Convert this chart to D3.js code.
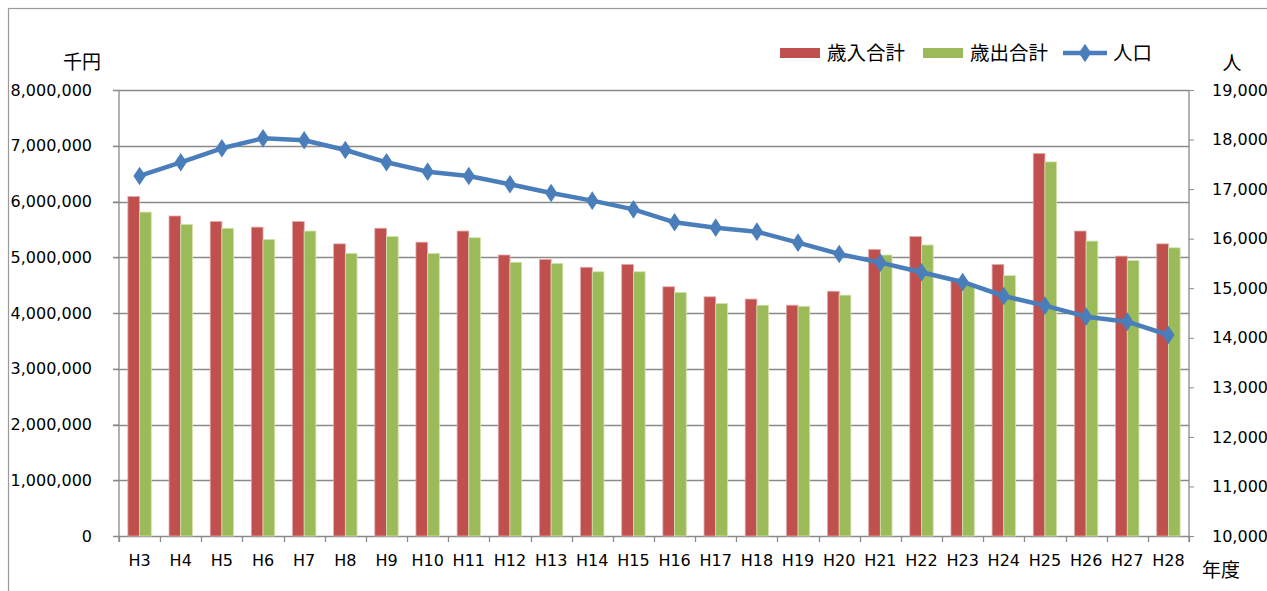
<!DOCTYPE html>
<html><head><meta charset="utf-8">
<script src="https://cdn.jsdelivr.net/npm/d3@7"></script>
<style>
html,body{margin:0;padding:0;background:#fff;}
svg{display:block;}
text{font-family:"DejaVu Sans",Verdana,sans-serif;fill:#000;}
.cjk{font-family:"Noto Sans CJK JP","Noto Sans",sans-serif;}
</style></head><body>
<svg id="c" width="1267" height="591"></svg>
<script>
const categories = ["H3","H4","H5","H6","H7","H8","H9","H10","H11","H12","H13","H14","H15","H16","H17","H18","H19","H20","H21","H22","H23","H24","H25","H26","H27","H28"];
const revenue = [6090000,5740000,5640000,5540000,5640000,5240000,5520000,5270000,5470000,5040000,4960000,4820000,4870000,4470000,4290000,4250000,4140000,4390000,5140000,5370000,4610000,4870000,6860000,5470000,5020000,5240000];
const expenditure = [5810000,5590000,5520000,5320000,5470000,5070000,5370000,5070000,5350000,4910000,4890000,4740000,4740000,4370000,4170000,4140000,4120000,4320000,5040000,5220000,4500000,4670000,6710000,5290000,4940000,5170000];
const population = [17265,17541,17824,18025,17985,17789,17541,17352,17265,17097,16922,16767,16592,16330,16222,16141,15920,15691,15516,15321,15126,14843,14648,14426,14325,14056];
const leftTicks = [0,1000000,2000000,3000000,4000000,5000000,6000000,7000000,8000000];
const rightTicks = [10000,11000,12000,13000,14000,15000,16000,17000,18000,19000];
const seriesNames = ["歳入合計","歳出合計","人口"];
const colors = {rev:"#C0504D", exp:"#9BBB59", pop:"#4A7EBB"};

const svg = d3.select("#c");
const L = 119, R = 1189, T = 90, B = 536;
const grid = "#8a8a8a";

// frame
svg.append("rect").attr("x",8.5).attr("y",8.5).attr("width",1300).attr("height",700)
  .attr("fill","none").attr("stroke","#9a9a9a").attr("stroke-width",1.2);

const x = d3.scaleBand().domain(categories).range([L,R]).paddingInner(0).paddingOuter(0);
const xs = d3.scaleBand().domain(["rev","exp"]).range([0,x.bandwidth()]).paddingInner(0).paddingOuter(0.76);
const yL = d3.scaleLinear().domain([0,8000000]).range([B,T]);
const yR = d3.scaleLinear().domain([10000,19000]).range([B,T]);

// gridlines
svg.append("g").selectAll("line").data(leftTicks).join("line")
  .attr("x1",L-6).attr("x2",R).attr("y1",d=>Math.round(yL(d))+0.5).attr("y2",d=>Math.round(yL(d))+0.5)
  .attr("stroke",grid).attr("stroke-width",1.3);

// left axis
const fmt = d3.format(",");
const gl = svg.append("g").attr("transform",`translate(${L},0)`)
  .call(d3.axisLeft(yL).tickValues(leftTicks).tickFormat(fmt).tickSize(6).tickPadding(21));
gl.select(".domain").attr("stroke",grid).attr("stroke-width",1.3).attr("d",`M0,${T}V${B+6}`);
gl.selectAll(".tick line").attr("stroke",grid);
gl.selectAll(".tick text").style("font-size","16px").style("font-family","'DejaVu Sans',Verdana,sans-serif").attr("fill","#000");

// right axis
const gr = svg.append("g").attr("transform",`translate(${R},0)`)
  .call(d3.axisRight(yR).tickValues(rightTicks).tickFormat(fmt).tickSize(5).tickPadding(18));
gr.select(".domain").attr("stroke",grid).attr("stroke-width",1.3).attr("d",`M0,${T}V${B+6}`);
gr.selectAll(".tick line").attr("stroke",grid);
gr.selectAll(".tick text").style("font-size","16px").style("font-family","'DejaVu Sans',Verdana,sans-serif").attr("fill","#000");

// bottom axis
const gb = svg.append("g").attr("transform",`translate(0,${B})`)
  .call(d3.axisBottom(x).tickSize(0).tickPadding(19));
gb.select(".domain").remove();
gb.selectAll(".tick text").style("font-size","16px").style("font-family","'DejaVu Sans',Verdana,sans-serif").attr("fill","#000");
svg.append("g").selectAll("line").data(categories.concat(["_end"])).join("line")
  .attr("x1",(d,i)=>Math.round(L+i*x.step())+0.5).attr("x2",(d,i)=>Math.round(L+i*x.step())+0.5)
  .attr("y1",B).attr("y2",B+6).attr("stroke",grid).attr("stroke-width",1.3);

// bars
const bars = svg.append("g");
bars.selectAll(".rev").data(revenue).join("rect")
  .attr("x",(d,i)=>x(categories[i])+xs("rev")).attr("width",xs.bandwidth())
  .attr("y",d=>yL(d)).attr("height",d=>B-yL(d))
  .attr("fill",colors.rev).attr("stroke","#e0a9a8").attr("stroke-width",0.8);
bars.selectAll(".exp").data(expenditure).join("rect")
  .attr("x",(d,i)=>x(categories[i])+xs("exp")).attr("width",xs.bandwidth())
  .attr("y",d=>yL(d)).attr("height",d=>B-yL(d))
  .attr("fill",colors.exp).attr("stroke","#d2e3b0").attr("stroke-width",0.8);

// line
const cx = i => x(categories[i]) + x.bandwidth()/2;
const line = d3.line().x((d,i)=>cx(i)).y(d=>yR(d));
svg.append("path").datum(population).attr("d",line)
  .attr("fill","none").attr("stroke",colors.pop).attr("stroke-width",4.5).attr("stroke-linejoin","round");
const dsym = d3.symbol().type(d3.symbolDiamond).size(100);
svg.append("g").selectAll("path").data(population).join("path")
  .attr("d",dsym).attr("transform",(d,i)=>`translate(${cx(i)},${yR(d)}) scale(1.15,1)`)
  .attr("fill",colors.pop);

// axis titles
svg.append("text").attr("class","cjk").attr("x",82).attr("y",69).attr("text-anchor","middle").style("font-size","19px").text("千円");
svg.append("text").attr("class","cjk").attr("x",1232).attr("y",70).attr("text-anchor","middle").style("font-size","19px").text("人");
svg.append("text").attr("class","cjk").attr("x",1221).attr("y",577).attr("text-anchor","middle").style("font-size","19px").text("年度");

// legend
const lg = svg.append("g");
const items = [
  {name:seriesNames[0], type:"rect", color:colors.rev, x:780, tx:827},
  {name:seriesNames[1], type:"rect", color:colors.exp, x:923, tx:970},
  {name:seriesNames[2], type:"line", color:colors.pop, x:1063, tx:1113}
];
items.forEach(it=>{
  if(it.type==="rect"){
    lg.append("rect").attr("x",it.x).attr("y",48).attr("width",40).attr("height",10).attr("fill",it.color);
  } else {
    lg.append("line").attr("x1",it.x).attr("x2",it.x+44).attr("y1",53).attr("y2",53).attr("stroke",it.color).attr("stroke-width",4.5);
    lg.append("path").attr("d",dsym).attr("transform",`translate(${it.x+22},53) scale(1.15,1)`).attr("fill",it.color);
  }
  lg.append("text").attr("class","cjk").attr("x",it.tx).attr("y",60).style("font-size","19.5px").text(it.name);
});
</script>
</body></html>
